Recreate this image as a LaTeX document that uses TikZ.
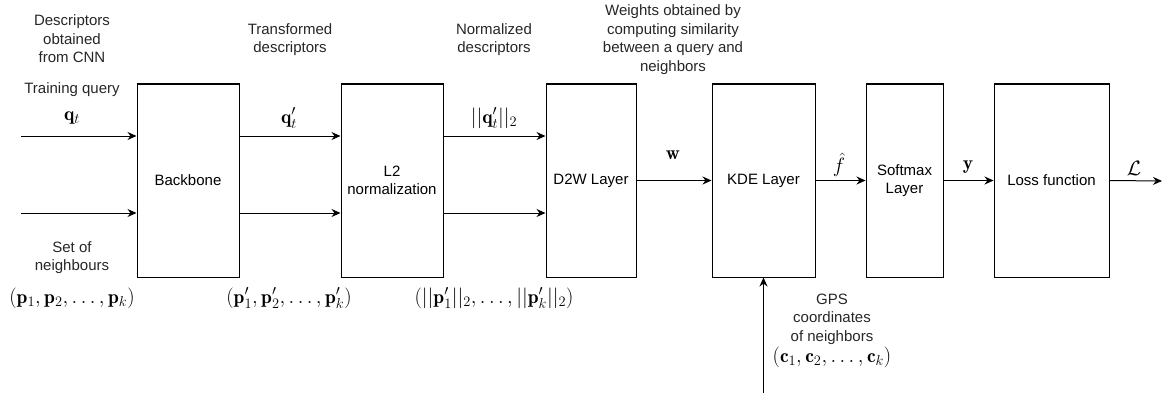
\documentclass[tikz,border=0pt]{standalone}
\usepackage{fontspec}
\setsansfont{Liberation Sans}
\usetikzlibrary{arrows.meta}
\begin{document}
\begin{tikzpicture}[x=1pt,y=-1pt,
  blk/.style={draw, line width=1pt, minimum height=193pt, inner sep=0pt, font=\sffamily\fontsize{15}{18.5}\selectfont, align=center},
  lbl/.style={font=\sffamily\fontsize{15}{18.5}\selectfont, align=center, inner sep=0pt, text=black!85},
  mth/.style={font=\fontsize{19.5}{23}\selectfont, inner sep=0pt},
  arr/.style={line width=1pt, -{Stealth[length=9pt,width=8pt]}}]
\useasboundingbox (0,0) rectangle (1162,396);
% blocks
\node[blk, minimum width=102pt] (bb) at (188,180.5) {Backbone};
\node[blk, minimum width=102pt] (l2) at (392,180.5) {L2\\normalization};
\node[blk, minimum width=90pt] (d2w) at (591,180.5) {D2W Layer};
\node[blk, minimum width=103pt] (kde) at (763.5,180.5) {KDE Layer};
\node[blk, minimum width=77pt] (sm) at (904.5,180.5) {Softmax\\Layer};
\node[blk, minimum width=115pt] (loss) at (1051.5,180.5) {Loss function};
% free ends
\coordinate (s1) at (21,136);
\coordinate (s2) at (21,213);
\coordinate (out) at (1162,181);
\coordinate (gps) at (763.5,393);
% connectors
\draw[arr] (s1) -- (bb.west |- s1);
\draw[arr] (s2) -- (bb.west |- s2);
\draw[arr] (bb.east |- s1) -- (l2.west |- s1);
\draw[arr] (bb.east |- s2) -- (l2.west |- s2);
\draw[arr] (l2.east |- s1) -- (d2w.west |- s1);
\draw[arr] (l2.east |- s2) -- (d2w.west |- s2);
\draw[arr] (d2w.east) -- (kde.west);
\draw[arr] (kde.east) -- (sm.west);
\draw[arr] (sm.east) -- (loss.west);
\draw[arr] (loss.east) -- (out);
\draw[arr] (gps) -- (kde.south);
% text labels
\node[lbl] (t1) at (72,39) {Descriptors\\obtained\\from CNN};
\node[lbl] (t2) at (72,90) {Training query};
\node[mth] (m1) at (72,118) {$\mathbf{q}_t$};
\node[lbl] (t3) at (72,257.5) {Set of\\neighbours};
\node[mth] (m2) at (72,298) {$(\mathbf{p}_1,\mathbf{p}_2,\ldots,\mathbf{p}_k)$};
\node[lbl] (t4) at (290,39.5) {Transformed\\descriptors};
\node[mth] (m3) at (289,118) {$\mathbf{q}'_t$};
\node[mth] (m4) at (289,298) {$(\mathbf{p}'_1,\mathbf{p}'_2,\ldots,\mathbf{p}'_k)$};
\node[lbl] (t5) at (494,39.5) {Normalized\\descriptors};
\node[mth] (m5) at (494,118) {$||\mathbf{q}'_t||_2$};
\node[mth] (m6) at (494,298) {$(||\mathbf{p}'_1||_2,\ldots,||\mathbf{p}'_k||_2)$};
\node[lbl] (t6) at (673,39.5) {Weights obtained by\\computing similarity\\between a query and\\neighbors};
\node[mth] (m7) at (673,155) {$\mathbf{w}$};
\node[mth] (m8) at (839,165) {$\hat{f}$};
\node[mth] (m9) at (968,167) {$\mathbf{y}$};
\node[mth] (m10) at (1134,168) {$\mathcal{L}$};
\node[lbl] (t7) at (832,319) {GPS\\coordinates\\of neighbors};
\node[mth] (m11) at (832,357) {$(\mathbf{c}_1,\mathbf{c}_2,\ldots,\mathbf{c}_k)$};
\end{tikzpicture}
\end{document}
